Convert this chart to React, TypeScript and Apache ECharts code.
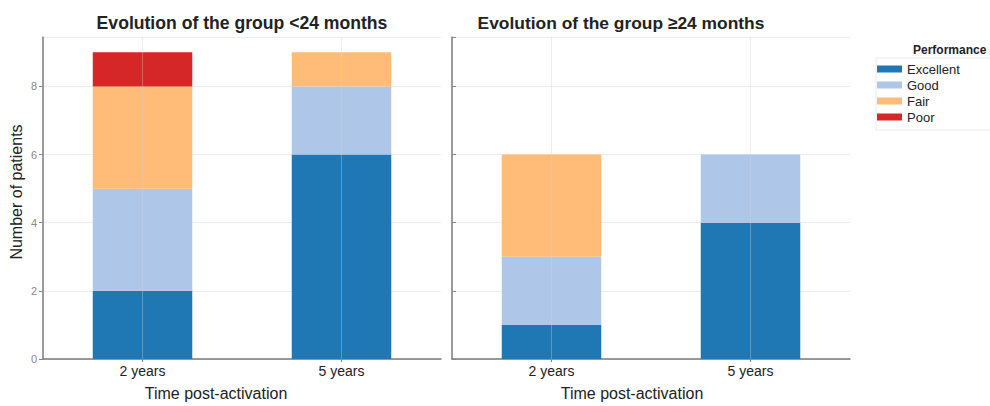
import React, { useEffect, useRef } from "react";
import * as echarts from "echarts";

const categories = ["2 years", "5 years"];
const levels = ["Excellent", "Good", "Fair", "Poor"];
const colors = ["#1f77b4", "#aec7e8", "#ffbb78", "#d62728"];
// group <24 months
const under24Excellent = [2, 6];
const under24Good = [3, 2];
const under24Fair = [3, 1];
const under24Poor = [1, 0];
// group >=24 months
const over24Excellent = [1, 4];
const over24Good = [2, 2];
const over24Fair = [3, 0];
const over24Poor = [0, 0];
const yTicks = [0, 2, 4, 6, 8];

const FONT = "Liberation Sans, Arial, sans-serif";

export default function App() {
  const ref = useRef<HTMLDivElement>(null);
  useEffect(() => {
    if (!ref.current) return;
    const chart = echarts.init(ref.current, null, { renderer: "svg" });
    const groups = [
      [under24Excellent, under24Good, under24Fair, under24Poor],
      [over24Excellent, over24Good, over24Fair, over24Poor],
    ];
    const series: any[] = [];
    groups.forEach((g, gi) => {
      g.forEach((vals, li) => {
        const s: any = {
          type: "bar",
          name: levels[li],
          xAxisIndex: gi,
          yAxisIndex: gi,
          stack: "s" + gi,
          barWidth: "50%",
          data: vals,
          itemStyle: { color: colors[li] },
          emphasis: { disabled: true },
        };
        if (li === g.length - 1) {
          s.markLine = {
            silent: true,
            symbol: "none",
            label: { show: false },
            lineStyle: { color: "rgba(210,210,210,0.35)", width: 1, type: "solid" },
            data: categories.map((c) => ({ xAxis: c })),
          };
        }
        series.push(s);
      });
    });
    const yAxisBase = (gi: number) => ({
      type: "value",
      gridIndex: gi,
      min: 0,
      max: 9.45,
      interval: 2,
      axisLine: { show: true, lineStyle: { color: "#7a7a7a", width: 1.5 } },
      axisTick: { show: true, length: 4, inside: gi === 1, lineStyle: { color: "#888" } },
      axisLabel: {
        show: gi === 0,
        color: "#888",
        fontSize: 11,
        fontFamily: FONT,
        margin: 6,
        showMaxLabel: false,
        formatter: (v: number) => (yTicks.includes(v) ? String(v) : ""),
      },
      splitLine: { show: true, lineStyle: { color: "#ececec", width: 1 } },
      name: gi === 0 ? "Number of patients" : "",
      nameLocation: "middle",
      nameGap: 19,
      nameTextStyle: { color: "#222", fontSize: 16, fontFamily: FONT, padding: [0, 0, 0, 12] },
    });
    const xAxisBase = (gi: number) => ({
      type: "category",
      gridIndex: gi,
      data: categories,
      axisLine: { show: true, lineStyle: { color: "#7a7a7a", width: 1.5 } },
      axisTick: { show: true, alignWithLabel: true, length: 3, lineStyle: { color: "#888" } },
      axisLabel: { color: "#222", fontSize: 14, fontFamily: FONT, margin: 5 },
      splitLine: { show: false },
      name: "Time post-activation",
      nameLocation: "middle",
      nameGap: 26,
      nameTextStyle: {
        color: "#222",
        fontSize: 16,
        fontFamily: FONT,
        padding: gi === 0 ? [0, 52, 0, 0] : [0, 38, 0, 0],
      },
    });
    chart.setOption({
      animation: false,
      textStyle: { fontFamily: FONT },
      title: [
        {
          text: "Evolution of the group <24 months",
          left: 237,
          top: 9,
          textAlign: "center",
          textStyle: { fontSize: 17.6, fontWeight: "bold", color: "#222", fontFamily: FONT },
        },
        {
          text: "Evolution of the group \u226524 months",
          left: 616,
          top: 9,
          textAlign: "center",
          textStyle: { fontSize: 17.4, fontWeight: "bold", color: "#222", fontFamily: FONT },
        },
        {
          text: "Performance",
          left: 908,
          top: 39,
          textStyle: { fontSize: 12, fontWeight: "bold", color: "#222", fontFamily: FONT },
        },
      ],
      legend: {
        data: levels,
        orient: "vertical",
        left: 876,
        top: 58,
        itemWidth: 25,
        itemHeight: 7,
        itemGap: 2,
        padding: [4, 40, 6, 1],
        borderColor: "#eaeaea",
        borderWidth: 1,
        icon: "rect",
        selectedMode: false,
        textStyle: { fontSize: 13, color: "#222", fontFamily: FONT, padding: [0, 0, 0, 0], lineHeight: 14 },
      },
      grid: [
        { left: 43, top: 37, width: 398, height: 325 },
        { left: 452, top: 37, width: 398, height: 325 },
      ],
      xAxis: [xAxisBase(0), xAxisBase(1)],
      yAxis: [yAxisBase(0), yAxisBase(1)],
      series,
    });
    return () => chart.dispose();
  }, []);
  return <div ref={ref} style={{ position: "absolute", left: 0, top: 0, width: 990, height: 406 }} />;
}
